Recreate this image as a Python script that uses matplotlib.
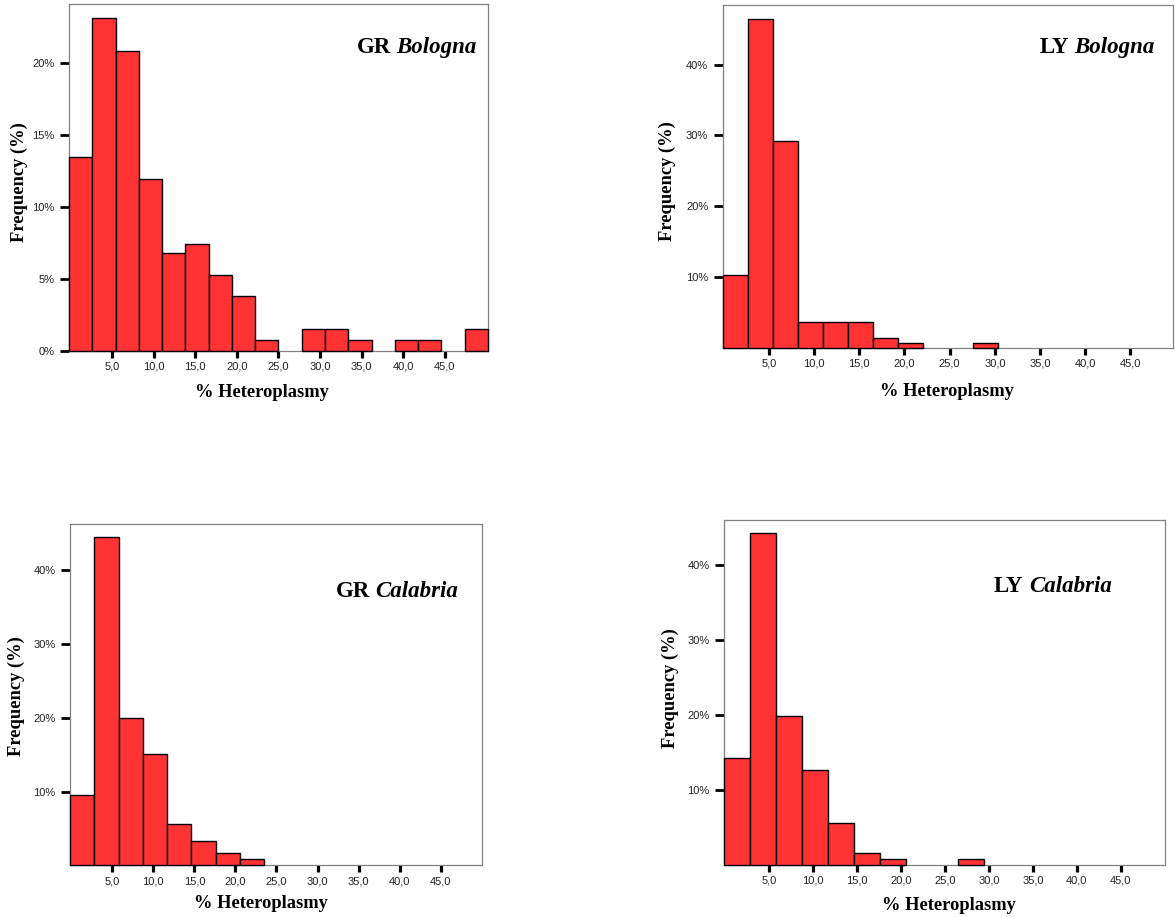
import numpy as np
import matplotlib.pyplot as plt

plt.rcParams['font.family'] = ['Liberation Sans', 'DejaVu Sans']

# bar heights in percent, one value per histogram bin
gr_bologna_pct = [13.43, 23.08, 20.83, 11.92, 6.76, 7.43, 5.25, 3.77, 0.76, 0.0,
                  1.50, 1.50, 0.76, 0.0, 0.76, 0.76, 0.0, 1.50]
ly_bologna_pct = [10.34, 46.5, 29.2, 3.59, 3.59, 3.59, 1.37, 0.62, 0.0, 0.0,
                  0.62, 0.0, 0.0, 0.0, 0.0, 0.0, 0.0, 0.0]
gr_calabria_pct = [9.53, 44.5, 19.97, 15.14, 5.65, 3.25, 1.63, 0.81, 0.0, 0.0,
                   0.0, 0.0, 0.0, 0.0, 0.0, 0.0, 0.0]
ly_calabria_pct = [14.24, 44.37, 19.85, 12.64, 5.6, 1.6, 0.76, 0.0, 0.0, 0.76,
                   0.0, 0.0, 0.0, 0.0, 0.0, 0.0, 0.0]

# histogram bins: (first edge, bin width) in % heteroplasmy
gr_bologna_bins = (-0.17, 2.798)
ly_bologna_bins = (-0.08, 2.766)
gr_calabria_bins = (-0.12, 2.952)
ly_calabria_bins = (-0.14, 2.952)

x_ticks = [5, 10, 15, 20, 25, 30, 35, 40, 45]
y_ticks_bologna_gr = [0, 5, 10, 15, 20]
y_ticks_other = [10, 20, 30, 40]

panel_codes = ["GR", "LY", "GR", "LY"]
panel_places = ["Bologna", "Bologna", "Calabria", "Calabria"]

BAR = "#ff3333"
SPINE = "#808080"
SERIF = ['Liberation Serif', 'DejaVu Serif']

fig = plt.figure(figsize=(11.75, 9.17), dpi=100)

panels = [
    # rect, data, bins, ylim top, yticks, title (x, y), xlabel (x, y), ylabel (x, y)
    ([0.0587, 0.6176, 0.3566, 0.3777], gr_bologna_pct, gr_bologna_bins, 24.06,
     y_ticks_bologna_gr, (0.974, 0.859), (0.46, -0.122), (-0.118, 0.487)),
    ([0.6152, 0.6208, 0.3831, 0.3734], ly_bologna_pct, ly_bologna_bins, 48.4,
     y_ticks_other, (0.96, 0.861), (0.497, -0.129), (-0.124, 0.487)),
    ([0.0598, 0.0564, 0.3506, 0.3722], gr_calabria_pct, gr_calabria_bins, 46.27,
     y_ticks_other, (0.942, 0.787), (0.464, -0.113), (-0.130, 0.496)),
    ([0.6162, 0.0570, 0.3754, 0.3762], ly_calabria_pct, ly_calabria_bins, 46.1,
     y_ticks_other, (0.879, 0.791), (0.509, -0.117), (-0.121, 0.512)),
]

for i, (rect, pct, bins, ytop, yticks, tpos, xlpos, ylpos) in enumerate(panels):
    ax = fig.add_axes(rect)
    start, width = bins
    pct = np.array(pct)
    edges = start + width * np.arange(len(pct) + 1)
    keep = pct > 0
    ax.bar(edges[:-1][keep], pct[keep], width=width, align='edge',
           color=BAR, edgecolor='black', linewidth=1.0, zorder=3, clip_on=False)

    ax.set_xlim(edges[0], edges[-1])
    ax.set_ylim(0, ytop)

    ax.set_xticks(x_ticks)
    ax.set_xticklabels([f"{v:.1f}".replace('.', ',') for v in x_ticks])
    ax.set_yticks(yticks)
    ax.set_yticklabels([f"{v}%" for v in yticks])
    ax.tick_params(axis='x', length=4.8, width=2.3, pad=3, labelsize=8,
                   labelcolor='#222222', direction='out')
    ax.tick_params(axis='y', length=6.5, width=2.0, pad=4, labelsize=8,
                   labelcolor='#222222', direction='out')

    for s in ax.spines.values():
        s.set_color(SPINE)
        s.set_linewidth(0.9)

    ax.set_xlabel("% Heteroplasmy", family=SERIF, fontweight='bold',
                  fontsize=13.3, va='center')
    ax.xaxis.set_label_coords(*xlpos)
    ax.set_ylabel("Frequency (%)", family=SERIF, fontweight='bold',
                  fontsize=13.3, va='center')
    ax.yaxis.set_label_coords(*ylpos)

    t_it = ax.text(tpos[0], tpos[1], panel_places[i], transform=ax.transAxes,
                   ha='right', va='baseline', family=SERIF, fontweight='bold',
                   fontstyle='italic', fontsize=16.5)
    ax.annotate(panel_codes[i], xy=(0, 0), xycoords=t_it, xytext=(-4.0, 0),
                textcoords='offset points', ha='right', va='bottom',
                family=SERIF, fontweight='bold', fontsize=16.5)

fig.savefig("out.png", dpi=100)
